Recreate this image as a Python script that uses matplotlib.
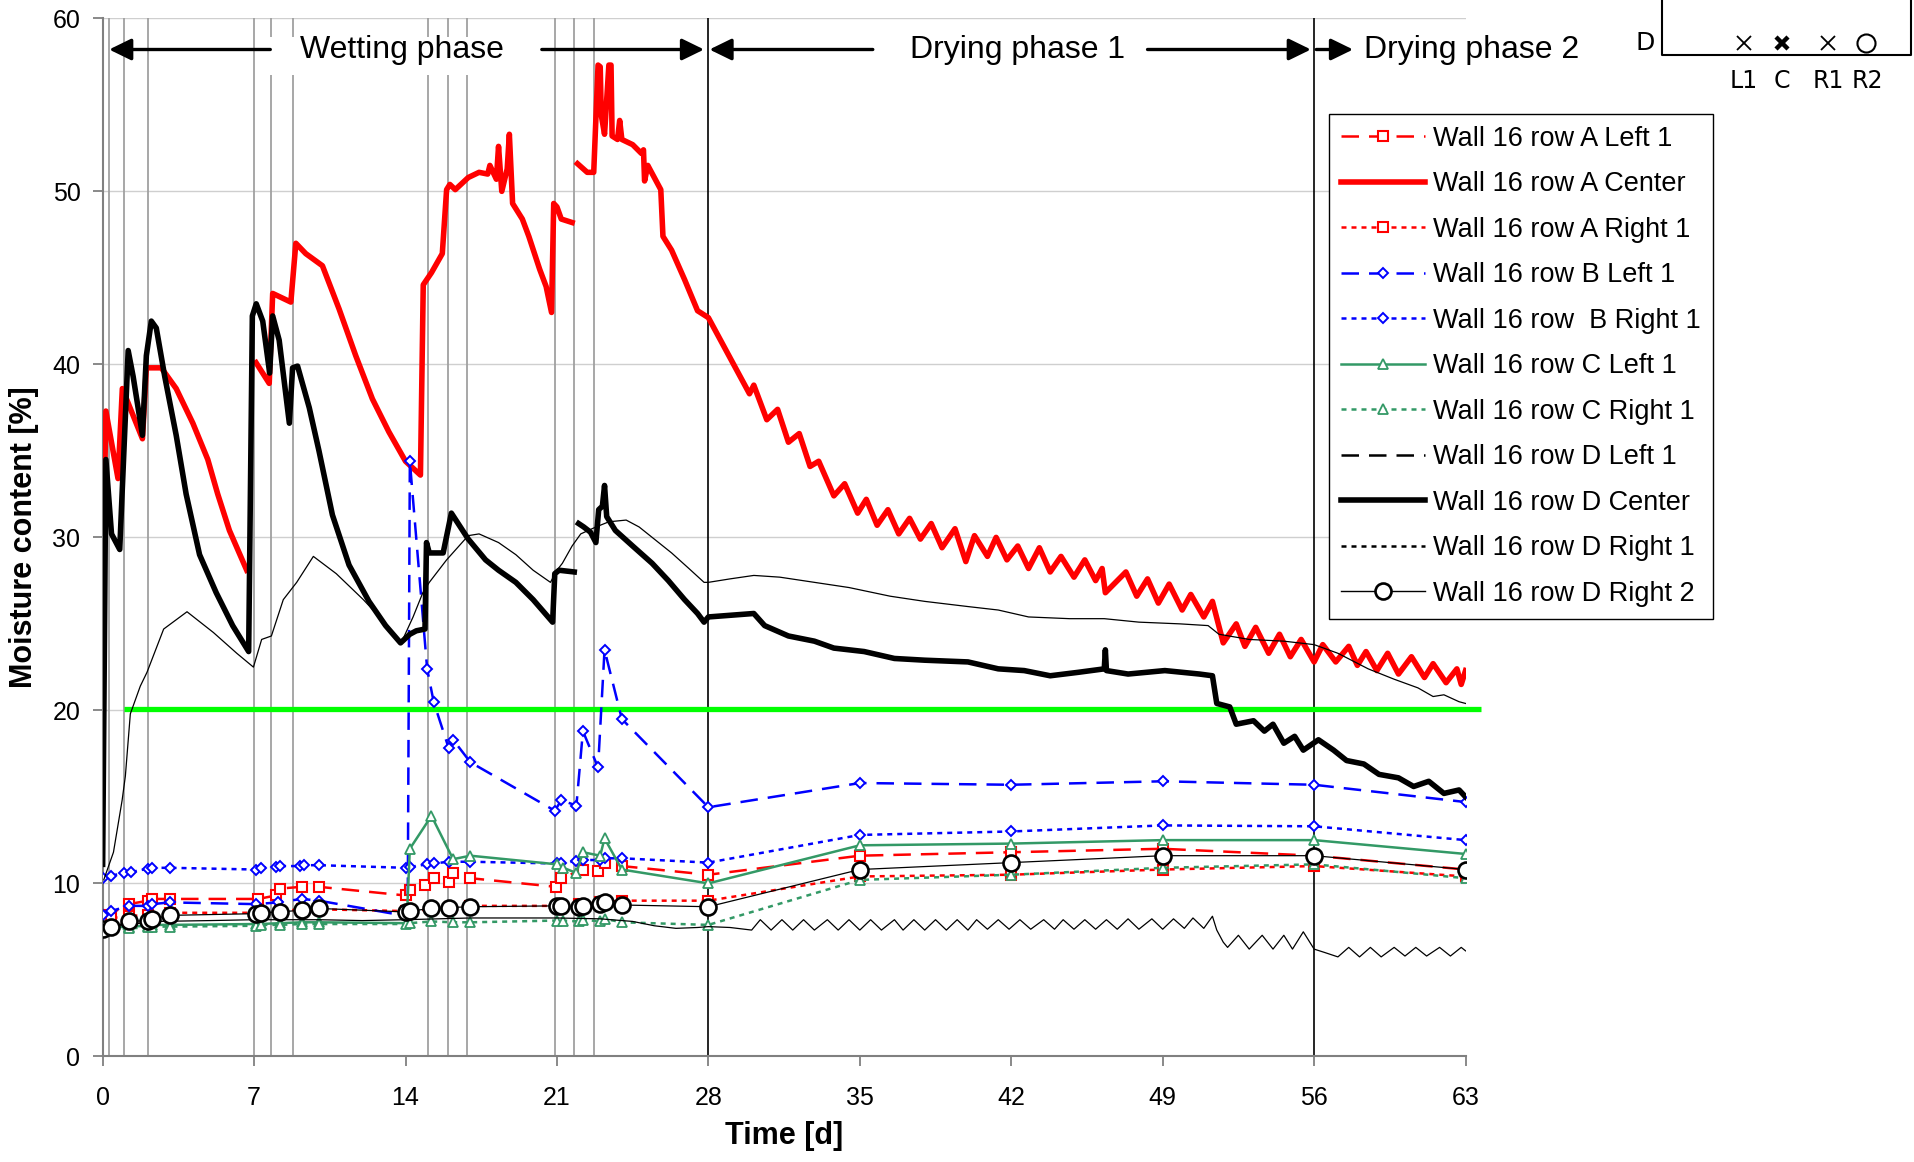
import numpy as np
import matplotlib.pyplot as plt
from matplotlib.lines import Line2D
from matplotlib.patches import Rectangle

plt.rcParams['font.family'] = ['Liberation Sans', 'DejaVu Sans']

# logged sensor traces: (time [d], moisture content [%]); nan marks a logger gap
a_center = [(0.02, 28.0), (0.15, 37.3), (0.71, 33.4), (0.91, 38.6), (1.84, 35.7), (2.02, 39.8),
            (2.71, 39.8), (3.40, 38.6), (4.17, 36.6), (4.86, 34.5), (5.32, 32.5), (5.86, 30.4),
            (6.66, 28.1), (6.9, np.nan), (7.09, 40.1), (7.70, 38.9), (7.86, 44.1), (8.70, 43.6),
            (8.93, 47.0), (9.39, 46.4), (10.16, 45.7), (10.93, 43.2), (11.70, 40.5), (12.47, 38.0),
            (13.23, 36.1), (14.0, 34.4), (14.69, 33.6), (14.82, 44.6), (15.2, 45.3), (15.7, 46.4),
            (15.9, 50.1), (16.05, 50.4), (16.3, 50.1), (16.9, 50.8), (17.4, 51.1), (17.8, 51.0),
            (17.9, 51.5), (18.2, 50.7), (18.3, 52.6), (18.45, 50.0), (18.7, 51.3), (18.8, 53.3),
            (18.95, 49.3), (19.4, 48.4), (19.7, 47.4), (20.2, 45.5), (20.5, 44.5), (20.75, 43.0),
            (20.85, 49.3), (21.0, 49.1), (21.2, 48.4), (21.7, 48.2), (21.8, np.nan), (21.95, 51.6),
            (22.4, 51.1), (22.7, 51.1), (22.8, 54.2), (22.9, 57.3), (23.0, 57.2), (23.05, 54.4),
            (23.2, 53.3), (23.4, 57.3), (23.5, 57.3), (23.55, 53.2), (23.8, 53.0), (23.9, 54.1),
            (24.0, 53.0), (24.5, 52.7), (24.9, 52.2), (25.0, 52.4), (25.05, 50.6), (25.2, 51.5),
            (25.8, 50.1), (25.9, 47.4), (26.3, 46.6), (26.9, 44.9), (27.5, 43.1), (28.0, 42.7),
            (29.9, 38.3), (30.1, 38.8), (30.7, 36.8), (31.2, 37.4), (31.7, 35.5), (32.2, 36.0),
            (32.7, 34.1), (33.1, 34.4), (33.8, 32.4), (34.3, 33.1), (34.9, 31.4), (35.3, 32.2),
            (35.8, 30.7), (36.3, 31.6), (36.8, 30.2), (37.3, 31.1), (37.8, 29.9), (38.3, 30.8),
            (38.8, 29.4), (39.4, 30.5), (39.9, 28.6), (40.3, 30.1), (40.9, 28.9), (41.3, 30.0),
            (41.8, 28.7), (42.3, 29.5), (42.8, 28.2), (43.3, 29.4), (43.8, 28.0), (44.3, 28.9),
            (44.9, 27.7), (45.4, 28.7), (45.9, 27.5), (46.2, 28.2), (46.35, 26.8), (47.3, 28.0),
            (47.8, 26.6), (48.3, 27.6), (48.8, 26.2), (49.3, 27.3), (49.9, 25.8), (50.3, 26.7),
            (50.9, 25.4), (51.3, 26.3), (51.8, 23.9), (52.4, 25.0), (52.8, 23.7), (53.3, 24.8),
            (53.9, 23.3), (54.4, 24.4), (54.9, 23.1), (55.4, 24.1), (56.0, 22.8), (56.4, 23.8),
            (57.0, 22.8), (57.6, 23.7), (58.0, 22.6), (58.4, 23.4), (58.9, 22.3), (59.4, 23.3),
            (59.9, 22.1), (60.5, 23.1), (61.1, 21.9), (61.5, 22.7), (62.1, 21.6), (62.6, 22.4),
            (62.8, 21.5), (63.0, 22.3)]

d_center = [(0.0, 11.1), (0.15, 34.5), (0.41, 30.2), (0.79, 29.3), (1.18, 40.8), (1.41, 39.3),
            (1.84, 35.9), (2.02, 40.5), (2.25, 42.5), (2.48, 42.1), (2.87, 39.3), (3.40, 35.9),
            (3.86, 32.5), (4.48, 29.0), (5.25, 26.8), (6.01, 24.9), (6.75, 23.4), (6.92, 42.8),
            (7.1, 43.5), (7.4, 42.5), (7.72, 39.5), (7.86, 42.8), (8.16, 41.4), (8.63, 36.6),
            (8.78, 39.8), (9.01, 39.9), (9.55, 37.5), (10.0, 35.0), (10.62, 31.3), (11.39, 28.4),
            (12.31, 26.3), (13.08, 24.9), (13.77, 23.9), (14.2, 24.4), (14.5, 24.6), (14.9, 24.7),
            (14.97, 29.7), (15.1, 29.1), (15.74, 29.1), (16.12, 31.4), (16.9, 29.9), (17.7, 28.7),
            (18.3, 28.1), (19.1, 27.4), (19.9, 26.4), (20.8, 25.1), (20.9, 27.9), (21.1, 28.1),
            (21.8, 28.0), (21.85, np.nan), (22.0, 30.8), (22.24, 30.6), (22.55, 30.3), (22.8, 29.7),
            (22.93, 31.6), (23.1, 31.8), (23.2, 33.0), (23.3, 31.2), (23.7, 30.4), (24.5, 29.5),
            (25.4, 28.5), (26.15, 27.5), (26.9, 26.4), (27.5, 25.6), (27.8, 25.1), (28.0, 25.4),
            (30.1, 25.6), (30.6, 24.9), (31.7, 24.3), (32.9, 24.0), (33.8, 23.6), (35.2, 23.4),
            (36.6, 23.0), (38.0, 22.9), (40.0, 22.8), (41.4, 22.4), (42.6, 22.3), (43.8, 22.0),
            (45.1, 22.2), (46.3, 22.4), (46.35, 23.5), (46.4, 22.3), (47.4, 22.1), (49.1, 22.3),
            (50.7, 22.1), (51.3, 22.0), (51.5, 20.4), (52.1, 20.2), (52.4, 19.2), (53.2, 19.4),
            (53.7, 18.8), (54.1, 19.2), (54.6, 18.1), (55.1, 18.5), (55.5, 17.7), (56.2, 18.3),
            (56.9, 17.7), (57.5, 17.1), (58.3, 16.9), (59.0, 16.3), (59.9, 16.1), (60.6, 15.6),
            (61.3, 15.9), (62.0, 15.2), (62.7, 15.4), (63.0, 15.0)]

d_left1 = [(0.05, 10.2), (0.5, 11.8), (0.9, 14.8), (1.05, 16.2), (1.28, 19.8), (1.74, 21.4),
           (2.05, 22.2), (2.82, 24.7), (3.9, 25.7), (5.12, 24.5), (6.2, 23.3), (6.97, 22.5),
           (7.35, 24.1), (7.8, 24.3), (8.35, 26.4), (8.97, 27.4), (9.74, 28.9), (10.8, 27.9),
           (12.05, 26.4), (13.1, 25.0), (13.8, 23.9), (14.35, 25.4), (14.8, 26.8), (15.1, 27.4),
           (15.9, 28.7), (16.9, 30.1), (17.4, 30.2), (18.3, 29.7), (19.1, 29.0), (19.9, 28.1),
           (20.7, 27.4), (21.0, 28.1), (21.25, 28.5), (21.7, 29.5), (22.1, 30.2), (22.8, 30.6),
           (23.4, 30.9), (24.2, 31.0), (24.8, 30.6), (25.5, 29.9), (26.3, 29.1), (27.1, 28.2),
           (27.8, 27.4), (28.0, 27.4), (29.0, 27.6), (30.1, 27.8), (31.3, 27.7), (32.9, 27.4),
           (34.5, 27.1), (36.4, 26.6), (38.0, 26.3), (40.0, 26.0), (41.4, 25.8), (42.8, 25.4),
           (44.7, 25.3), (46.3, 25.3), (47.9, 25.1), (49.8, 25.0), (51.1, 24.9), (51.6, 24.4),
           (53.0, 24.1), (54.6, 24.0), (56.0, 23.8), (57.1, 23.3), (58.5, 22.4), (59.7, 21.8),
           (60.8, 21.3), (61.5, 20.8), (62.0, 20.9), (62.7, 20.5), (63.0, 20.4)]

d_right1 = [(0.0, 7.5), (1.0, 7.6), (2.5, 7.8), (5.0, 7.85), (7.0, 7.9), (10.0, 7.9), (12.0, 7.85),
            (14.0, 7.9), (17.0, 8.0), (21.0, 8.0), (23.0, 7.95), (24.5, 7.8), (25.5, 7.55),
            (26.5, 7.4), (27.5, 7.45), (28.0, 7.5), (29.0, 7.45), (30.0, 7.3), (30.4, 7.9),
            (30.9, 7.3), (31.4, 7.9), (31.9, 7.3), (32.4, 7.9), (32.9, 7.3), (33.5, 7.9), (34.0, 7.3),
            (34.5, 7.9), (35.0, 7.3), (35.5, 7.9), (36.0, 7.3), (36.6, 7.9), (37.0, 7.3), (37.5, 7.9),
            (38.0, 7.3), (38.5, 7.9), (39.0, 7.3), (39.5, 7.9), (40.0, 7.3), (40.4, 7.9), (40.9, 7.35),
            (41.4, 7.9), (41.9, 7.35), (42.4, 7.9), (42.9, 7.35), (43.5, 7.9), (44.0, 7.35),
            (44.4, 7.9), (44.9, 7.35), (45.4, 7.9), (45.9, 7.35), (46.4, 7.9), (46.9, 7.35),
            (47.4, 7.95), (47.9, 7.35), (48.5, 7.95), (49.0, 7.35), (49.5, 7.95), (50.0, 7.4),
            (50.4, 8.0), (50.9, 7.4), (51.3, 8.1), (51.5, 7.3), (51.8, 6.6), (52.0, 6.3), (52.5, 7.0),
            (53.0, 6.2), (53.6, 7.0), (54.1, 6.2), (54.6, 7.0), (55.0, 6.2), (55.5, 7.2), (56.0, 6.2),
            (56.5, 6.0), (57.1, 5.75), (57.6, 6.3), (58.1, 5.75), (58.6, 6.3), (59.1, 5.75),
            (59.7, 6.3), (60.2, 5.8), (60.7, 6.3), (61.2, 5.8), (61.8, 6.3), (62.3, 5.8), (62.8, 6.3),
            (63.0, 6.1)]

# manual readings
t_a_left1 = [0.0, 0.3, 1.2, 2.1, 2.3, 3.1, 7.2, 8.0, 8.2, 9.2, 10.0, 14.0, 14.2, 14.9, 15.3,
             16.0, 16.2, 17.0, 20.95, 21.2, 22.2, 22.9, 23.2, 24.0, 28, 35, 42, 49, 56, 63]
a_left1 = [8.0, 8.2, 8.8, 9.0, 9.1, 9.1, 9.1, 9.3, 9.7, 9.8, 9.8, 9.3, 9.6, 9.9, 10.3,
           10.1, 10.6, 10.3, 9.8, 10.3, 10.8, 10.7, 11.2, 11.0, 10.5, 11.6, 11.8, 12.0, 11.6, 10.8]

t_a_right1 = [0.0, 0.4, 1.2, 2.1, 3.1, 7.2, 8.2, 9.2, 10.0, 14.0, 15.2, 16.0, 17.0, 21.0,
              22.0, 23.0, 24.0, 28, 35, 42, 49, 56, 63]
a_right1 = [7.9, 8.0, 8.1, 8.2, 8.3, 8.3, 8.4, 8.5, 8.5, 8.4, 8.5, 8.6, 8.7, 8.7,
            8.8, 8.9, 9.0, 9.0, 10.4, 10.5, 10.8, 11.0, 10.4]

t_b_left1 = [0.0, 0.4, 1.2, 2.1, 2.3, 3.1, 7.1, 8.1, 9.2, 10.0, 14.1, 14.2, 15.0, 15.3, 16.0,
             16.2, 17.0, 20.9, 21.2, 21.9, 22.2, 22.9, 23.2, 24.0, 28, 35, 42, 49, 56, 63]
b_left1 = [8.2, 8.4, 8.7, 8.7, 8.8, 8.9, 8.8, 8.9, 9.1, 9.0, 8.1, 34.4, 22.4, 20.5, 17.8,
           18.3, 17.0, 14.2, 14.8, 14.5, 18.8, 16.7, 23.5, 19.5, 14.4, 15.8, 15.7, 15.9, 15.7, 14.7]

t_b_right1 = [0.0, 0.4, 1.0, 1.3, 2.1, 2.3, 3.1, 7.1, 7.3, 8.0, 8.2, 9.1, 9.3, 10.0, 14.0, 14.2,
              15.0, 15.3, 16.0, 17.0, 21.0, 21.2, 21.9, 22.2, 23.0, 23.2, 24.0, 28, 35, 42, 49, 56, 63]
b_right1 = [10.3, 10.45, 10.6, 10.65, 10.85, 10.9, 10.9, 10.8, 10.9, 10.95, 11.0, 11.0, 11.05,
            11.05, 10.9, 10.95, 11.1, 11.15, 11.25, 11.25, 11.15, 11.15, 11.3, 11.35, 11.35,
            11.45, 11.45, 11.2, 12.8, 13.0, 13.35, 13.3, 12.5]

t_c_left1 = [0.0, 0.4, 1.2, 2.1, 2.3, 3.1, 7.1, 7.3, 8.2, 9.2, 10.0, 14.05, 14.2, 15.2, 16.2,
             17.0, 21.0, 21.3, 21.9, 22.2, 23.0, 23.2, 24.0, 28, 35, 42, 49, 56, 63]
c_left1 = [7.4, 7.45, 7.5, 7.55, 7.6, 7.6, 7.65, 7.65, 7.7, 7.75, 7.75, 7.7, 12.0, 13.9, 11.4,
           11.6, 11.1, 10.9, 10.6, 11.8, 11.6, 12.6, 10.8, 10.0, 12.2, 12.3, 12.5, 12.5, 11.7]

t_c_right1 = [0.0, 0.4, 1.2, 2.1, 2.3, 3.1, 7.1, 7.3, 8.2, 9.2, 10.0, 14.0, 14.2, 15.2, 16.2,
              17.0, 21.0, 21.3, 22.0, 22.2, 23.0, 23.2, 24.0, 28, 35, 42, 49, 56, 63]
c_right1 = [7.3, 7.35, 7.4, 7.45, 7.5, 7.5, 7.55, 7.6, 7.6, 7.65, 7.65, 7.65, 7.7, 7.8, 7.75,
            7.75, 7.85, 7.85, 7.8, 7.9, 7.8, 7.95, 7.75, 7.6, 10.2, 10.5, 10.9, 11.1, 10.3]

t_d_right2 = [0.0, 0.4, 1.2, 2.1, 2.3, 3.1, 7.1, 7.3, 8.2, 9.2, 10.0, 14.0, 14.2, 15.2, 16.0,
              17.0, 21.0, 21.2, 22.0, 22.2, 23.0, 23.2, 24.0, 28, 35, 42, 49, 56, 63]
d_right2 = [7.35, 7.45, 7.8, 7.85, 7.95, 8.15, 8.25, 8.3, 8.35, 8.45, 8.55, 8.35, 8.4, 8.55, 8.6,
            8.65, 8.7, 8.7, 8.65, 8.7, 8.8, 8.9, 8.75, 8.65, 10.8, 11.2, 11.6, 11.6, 10.8]

wetting_events = [0.3, 1.0, 2.1, 7.0, 7.8, 8.8, 15.05, 15.95, 16.85, 20.9, 21.8, 22.7]
phase_bounds = [28, 56]
threshold = 20.1
threshold_span = (1.0, 63.7)

labels = ['Wall 16 row A Left 1', 'Wall 16 row A Center', 'Wall 16 row A Right 1',
          'Wall 16 row B Left 1', 'Wall 16 row  B Right 1', 'Wall 16 row C Left 1',
          'Wall 16 row C Right 1', 'Wall 16 row D Left 1', 'Wall 16 row D Center',
          'Wall 16 row D Right 1', 'Wall 16 row D Right 2']

RED, BLUE, GREEN = '#FF0000', '#0000FF', '#339966'
DASH, DOT = (0, (7, 4)), (0, (2, 2))


def xy(pairs):
    arr = np.array(pairs, dtype=float)
    return arr[:, 0], arr[:, 1]


fig = plt.figure(figsize=(19.15, 11.62), dpi=100)
ax = fig.add_axes([0.0536, 0.0909, 0.7117, 0.8933])

# wetting events and phase boundaries
for t in wetting_events:
    ax.axvline(t, color='#A0A0A0', lw=1.3, zorder=1)
for t in phase_bounds:
    ax.axvline(t, color='black', lw=1.2, zorder=1)

# series styles: (color, linestyle, plot lw, marker, markersize, mew)
styles = [
    (RED, DASH, 1.8, 's', 7.5, 1.5),
    (RED, '-', 4.0, None, 0, 0),
    (RED, DOT, 1.8, 's', 7.5, 1.5),
    (BLUE, DASH, 1.8, 'D', 5.5, 1.4),
    (BLUE, DOT, 1.8, 'D', 5.5, 1.4),
    (GREEN, '-', 1.8, '^', 7.5, 1.3),
    (GREEN, DOT, 1.8, '^', 7.5, 1.3),
    ('black', DASH, 1.8, None, 0, 0),
    ('black', '-', 4.0, None, 0, 0),
    ('black', DOT, 1.8, None, 0, 0),
    ('black', '-', 0.9, 'o', 11.5, 1.9),
]

series = [
    (t_a_left1, a_left1), xy(a_center), (t_a_right1, a_right1),
    (t_b_left1, b_left1), (t_b_right1, b_right1),
    (t_c_left1, c_left1), (t_c_right1, c_right1),
    xy(d_left1), xy(d_center), xy(d_right1), (t_d_right2, d_right2),
]

handles = []
for i, ((tx, vy), (c, ls, lw, mk, ms, mew)) in enumerate(zip(series, styles)):
    plot_ls, plot_lw = ls, lw
    if i in (7, 9):  # logged traces are dense, draw them as a thin continuous line
        plot_ls, plot_lw = '-', 0.9
    ax.plot(tx, vy, color=c, ls=plot_ls, lw=plot_lw, marker=mk, ms=ms, mew=mew,
            mfc='white', mec=c, solid_joinstyle='round', zorder=3 + i * 0.05)
    handles.append(Line2D([], [], color=c, ls=ls, lw=lw if lw > 1 else 1.0, marker=mk,
                          ms=ms, mew=mew, mfc='white', mec=c))

# 20 % limit
ax.hlines(threshold, *threshold_span, color='#00FF00', lw=3.8, zorder=2.5, clip_on=False)

ax.set_xlim(0, 63)
ax.set_ylim(0, 60)
ax.set_xticks(np.arange(0, 64, 7))
ax.set_yticks(np.arange(0, 61, 10))
ax.yaxis.grid(True, color='#CFCFCF', lw=1.0, zorder=0)
ax.set_axisbelow(True)
for side in ('top', 'right'):
    ax.spines[side].set_visible(False)
for side in ('left', 'bottom'):
    ax.spines[side].set_color('#808080')
    ax.spines[side].set_linewidth(1.5)
ax.tick_params(axis='both', direction='out', length=7, width=1.3, color='#808080',
               labelsize=18)
ax.tick_params(axis='x', pad=14)
ax.tick_params(axis='y', pad=9)
ax.set_xlabel('Time [d]', fontsize=22, fontweight='bold', labelpad=8)
ax.set_ylabel('Moisture content [%]', fontsize=22, fontweight='bold', labelpad=10)

# phase annotations
ya = 58.2
arrow = dict(arrowstyle='-|>,head_length=0.45,head_width=0.22', mutation_scale=30,
             lw=2.4, color='black', shrinkA=0, shrinkB=0)
ax.add_patch(Rectangle((7.05, 56.7), 13.25, 2.2, facecolor='white', edgecolor='none',
                       zorder=2))
for x0, x1 in [(7.75, 0.3), (20.3, 27.8), (35.6, 28.05), (48.3, 55.85), (56.1, 57.8)]:
    ax.annotate('', xy=(x1, ya), xytext=(x0, ya), arrowprops=arrow, zorder=6,
                annotation_clip=False)
ax.text(13.85, ya, 'Wetting phase', fontsize=23, ha='center', va='center', zorder=7)
ax.text(42.3, ya, 'Drying phase 1', fontsize=23, ha='center', va='center', zorder=7)
ax.text(58.3, ya, 'Drying phase 2', fontsize=23, ha='left', va='center', zorder=7)

leg = ax.legend(handles, labels, loc='upper left', bbox_to_anchor=(0.694, 0.9022),
                bbox_transform=fig.transFigure, borderaxespad=0, borderpad=0.45,
                labelspacing=0.72, handlelength=3.1, handletextpad=0.3, fontsize=19.5,
                fancybox=False, edgecolor='black', framealpha=1, numpoints=1)
leg.get_frame().set_linewidth(1.0)
leg.set_zorder(10)

# sensor position sketch, drawn in pixel coordinates
sk = fig.add_axes([1600 / 1915, (1162 - 110) / 1162, 315 / 1915, 110 / 1162])
sk.set_xlim(1600, 1915)
sk.set_ylim(110, 0)
sk.axis('off')
sk.plot([1662, 1662, 1911, 1911], [0, 55, 55, 0], color='black', lw=1.5)
sk.text(1645, 43, 'D', fontsize=18, ha='center', va='center', family='DejaVu Sans')
sk.plot([1744, 1828], [43, 43], ls='none', marker='x', ms=10, mew=1.3, color='black')
sk.plot([1782], [43], ls='none', marker='x', ms=9, mew=3.2, color='black')
sk.plot([1866], [43], ls='none', marker='o', ms=13, mew=1.5, mfc='white', mec='black')
for x, s in [(1744, 'L1'), (1782, 'C'), (1828, 'R1'), (1867, 'R2')]:
    sk.text(x, 81, s, fontsize=17, ha='center', va='center', family='DejaVu Sans')

fig.savefig('out.png', dpi=100)
